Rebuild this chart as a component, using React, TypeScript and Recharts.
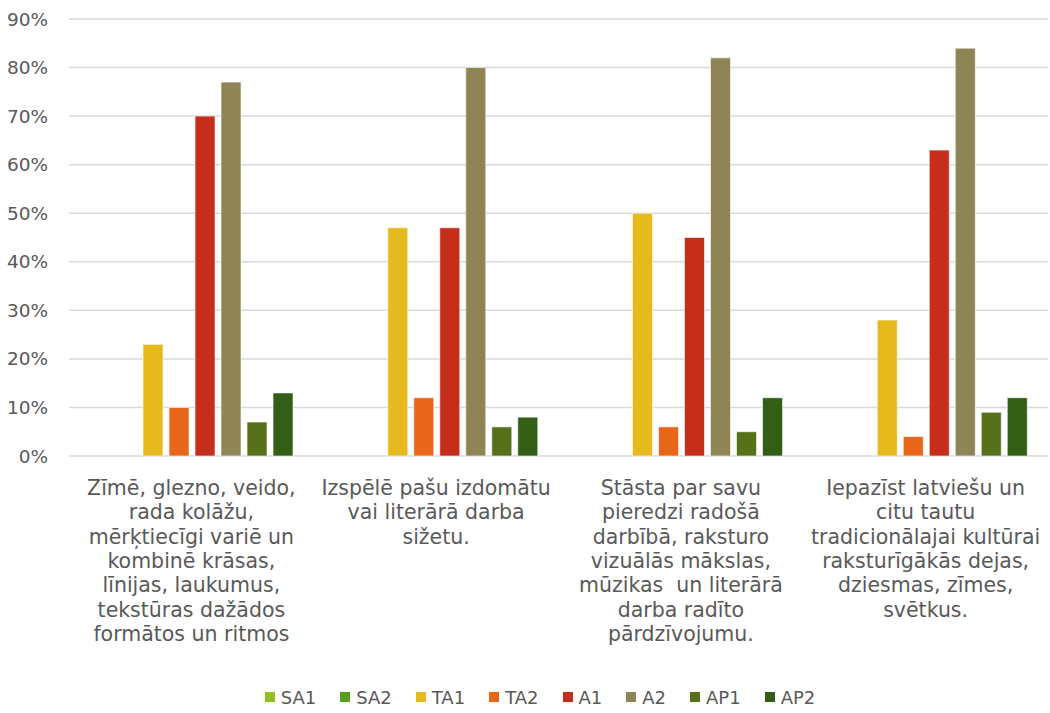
import React from 'react';
import { BarChart, Bar, XAxis, YAxis, CartesianGrid, Legend } from 'recharts';

const categories = [
  'Zīmē, glezno, veido, rada kolāžu, mērķtiecīgi variē un kombinē krāsas, līnijas, laukumus, tekstūras dažādos formātos un ritmos',
  'Izspēlē pašu izdomātu vai literārā darba sižetu.',
  'Stāsta par savu pieredzi radošā darbībā, raksturo vizuālās mākslas, mūzikas  un literārā darba radīto pārdzīvojumu.',
  'Iepazīst latviešu un citu tautu tradicionālajai kultūrai raksturīgākās dejas, dziesmas, zīmes, svētkus.',
];

const categoryLines = [
  ['Zīmē, glezno, veido,', 'rada kolāžu,', 'mērķtiecīgi variē un', 'kombinē krāsas,', 'līnijas, laukumus,', 'tekstūras dažādos', 'formātos un ritmos'],
  ['Izspēlē pašu izdomātu', 'vai literārā darba', 'sižetu.'],
  ['Stāsta par savu', 'pieredzi radošā', 'darbībā, raksturo', 'vizuālās mākslas,', 'mūzikas  un literārā', 'darba radīto', 'pārdzīvojumu.'],
  ['Iepazīst latviešu un', 'citu tautu', 'tradicionālajai kultūrai', 'raksturīgākās dejas,', 'dziesmas, zīmes,', 'svētkus.'],
];

const seriesNames = ['SA1', 'SA2', 'TA1', 'TA2', 'A1', 'A2', 'AP1', 'AP2'];
const seriesColors = ['#92C01F', '#56A01E', '#E6B91E', '#E8661A', '#C42E1A', '#8F8455', '#56711A', '#335E16'];

const SA1 = [0, 0, 0, 0];
const SA2 = [0, 0, 0, 0];
const TA1 = [23, 47, 50, 28];
const TA2 = [10, 12, 6, 4];
const A1 = [70, 47, 45, 63];
const A2 = [77, 80, 82, 84];
const AP1 = [7, 6, 5, 9];
const AP2 = [13, 8, 12, 12];

const yTicks = [0, 10, 20, 30, 40, 50, 60, 70, 80, 90];

const seriesValues = [SA1, SA2, TA1, TA2, A1, A2, AP1, AP2];

const data = categories.map((c, i) => {
  const row: Record<string, any> = { name: c, idx: i };
  seriesNames.forEach((s, k) => {
    row[s] = seriesValues[k][i];
  });
  return row;
});

const FONT = '"DejaVu Sans", sans-serif';
const TEXT = '#595959';

const CategoryTick = (props: any) => {
  const { x, y, payload } = props;
  const lines = categoryLines[payload.index] || [];
  return (
    <text x={x} y={y} textAnchor="middle" fill={TEXT} fontSize={20.5} fontFamily={FONT} style={{ whiteSpace: 'pre' }}>
      {lines.map((l, i) => (
        <tspan key={i} x={x} dy={i === 0 ? 31 : 24.3}>
          {l}
        </tspan>
      ))}
    </text>
  );
};

const LegendContent = () => (
  <div
    style={{
      display: 'flex',
      justifyContent: 'center',
      alignItems: 'center',
      height: 32,
      fontFamily: FONT,
      fontSize: 18,
      color: TEXT,
      paddingLeft: 32,
    }}
  >
    {seriesNames.map((s, k) => (
      <div key={s} style={{ display: 'flex', alignItems: 'center', marginRight: k === seriesNames.length - 1 ? 0 : 24 }}>
        <span style={{ display: 'inline-block', width: 10, height: 10, background: seriesColors[k], marginRight: 6 }} />
        <span>{s}</span>
      </div>
    ))}
  </div>
);

export default function App() {
  return (
    <div style={{ position: 'absolute', left: 0, top: 0, width: 1050, height: 713, background: '#fff' }}>
      <BarChart
        width={1050}
        height={713}
        data={data}
        margin={{ top: 19, right: 2, left: 0, bottom: 0 }}
        barCategoryGap="9%"
        barGap={6}
      >
        <CartesianGrid vertical={false} stroke="#D9D9D9" strokeWidth={1.5} />
        <XAxis
          dataKey="name"
          axisLine={false}
          tickLine={false}
          interval={0}
          height={225}
          tick={<CategoryTick />}
        />
        <YAxis
          width={69}
          domain={[0, 90]}
          ticks={yTicks}
          axisLine={false}
          tickLine={false}
          tickMargin={15}
          tickFormatter={(v: number) => `${v}%`}
          tick={{ fill: TEXT, fontSize: 18.5, fontFamily: FONT }}
        />
        <Legend verticalAlign="bottom" height={32} content={<LegendContent />} />
        {seriesNames.map((s, k) => (
          <Bar key={s} dataKey={s} fill={seriesColors[k]} stroke="#ffffff" strokeOpacity={0.6} strokeWidth={1} isAnimationActive={false} />
        ))}
      </BarChart>
    </div>
  );
}
